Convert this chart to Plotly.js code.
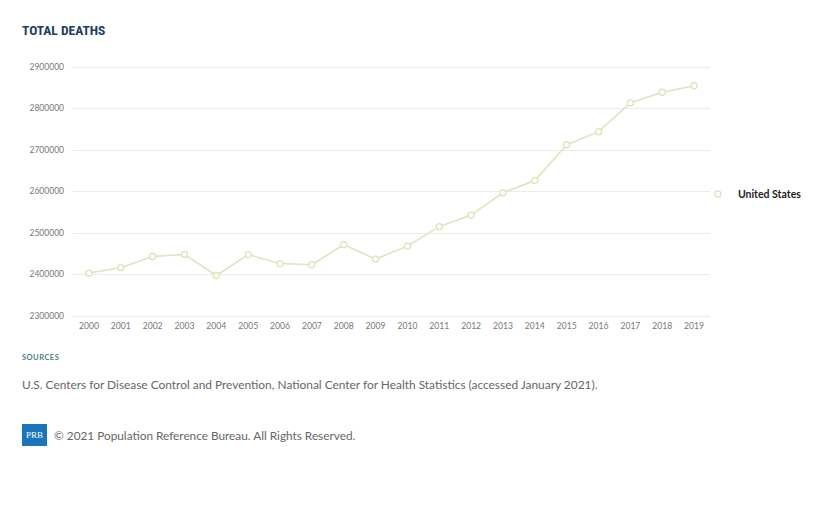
<!DOCTYPE html>
<html>
<head>
<meta charset="utf-8">
<script src="https://cdn.plot.ly/plotly-3.0.1.min.js"></script>
<style>
html,body{margin:0;padding:0;background:#fff;}
#chart{width:839px;height:514px;}
</style>
</head>
<body>
<div id="chart"></div>
<script>
var years = ["2000","2001","2002","2003","2004","2005","2006","2007","2008","2009","2010","2011","2012","2013","2014","2015","2016","2017","2018","2019"];
var deaths = [2403351,2416425,2443387,2448288,2397615,2448017,2426264,2423712,2471984,2437163,2468435,2515458,2543279,2596993,2626418,2712630,2744248,2813503,2839205,2854838];
var yTicks = [2300000,2400000,2500000,2600000,2700000,2800000,2900000];
var seriesName = "United States";

var lineColor = "#e3e0bd";

var traces = [
  {x: years, y: deaths, type: "scatter", mode: "lines", showlegend: false,
   line: {color: lineColor, width: 1.5}, hoverinfo: "skip"},
  {x: years, y: deaths, type: "scatter", mode: "markers", name: seriesName,
   marker: {symbol: "circle", size: 6, color: "#ffffff", line: {color: lineColor, width: 1.3}}}
];

var HS = "\u200A";
// plot area: x 73..710, y 64..319 (255 px); 2900000 at y=67, 2300000 at y=316
var H = 255, T = 64;
function py(pix) { return (T + H - pix) / H; }
var layout = {
  width: 839, height: 514,
  margin: {l: 73, r: 129, t: T, b: 514 - T - H},
  paper_bgcolor: "#ffffff", plot_bgcolor: "#ffffff",
  showlegend: true,
  legend: {x: 0.981, y: py(194), xanchor: "left", yanchor: "middle",
    font: {family: "Lato, sans-serif", size: 10.5, color: "#222", weight: "bold"},
    itemwidth: 30, bgcolor: "rgba(0,0,0,0)"},
  xaxis: {type: "category", range: [-0.5, 19.5], showgrid: false, zeroline: false,
    showline: false, ticks: "", ticklabelstandoff: 0,
    tickfont: {family: "Lato, sans-serif", size: 8.6, color: "#777"},
    fixedrange: true},
  yaxis: {range: [2292770, 2907230], tickvals: yTicks, ticktext: yTicks.map(String),
    showgrid: true, gridcolor: "#ebebeb", gridwidth: 1, zeroline: false, showline: false,
    ticks: "", ticklabelstandoff: 8,
    tickfont: {family: "Lato, sans-serif", size: 8.5, color: "#777"}, fixedrange: true},
  shapes: [
    {type: "rect", xref: "paper", yref: "paper", x0: -0.0801, x1: -0.0408, y0: py(446), y1: py(424),
     fillcolor: "#1b75bb", line: {width: 0}}
  ],
  annotations: [
    {xref: "paper", yref: "paper", x: -0.0832, y: py(30), xanchor: "left", yanchor: "middle", showarrow: false,
     text: "<b>TOTAL DEATHS</b>", font: {family: "Liberation Sans Narrow, Roboto Condensed, Roboto, sans-serif", size: 13.5, color: "#1d3c64"}},
    {xref: "paper", yref: "paper", x: -0.0832, y: py(357), xanchor: "left", yanchor: "middle", showarrow: false,
     text: "<b>" + ["S","O","U","R","C","E","S"].join(HS) + "</b>", font: {family: "Lato, sans-serif", size: 7.5, color: "#4b7d8c"}},
    {xref: "paper", yref: "paper", x: -0.0832, y: py(384), xanchor: "left", yanchor: "middle", showarrow: false,
     text: "U.S. Centers for Disease Control and Prevention, National Center for Health Statistics (accessed January 2021).",
     font: {family: "Lato, sans-serif", size: 11.9, color: "#666"}},
    {xref: "paper", yref: "paper", x: -0.0605, y: py(435), xanchor: "center", yanchor: "middle", showarrow: false,
     text: "PRB", font: {family: "Liberation Serif, serif", size: 9, color: "#ffffff"}},
    {xref: "paper", yref: "paper", x: -0.0337, y: py(435), xanchor: "left", yanchor: "middle", showarrow: false,
     text: "© 2021 Population Reference Bureau. All Rights Reserved.",
     font: {family: "Lato, sans-serif", size: 11.8, color: "#666"}}
  ]
};
Plotly.newPlot("chart", traces, layout, {displayModeBar: false, staticPlot: true});
</script>
</body>
</html>
